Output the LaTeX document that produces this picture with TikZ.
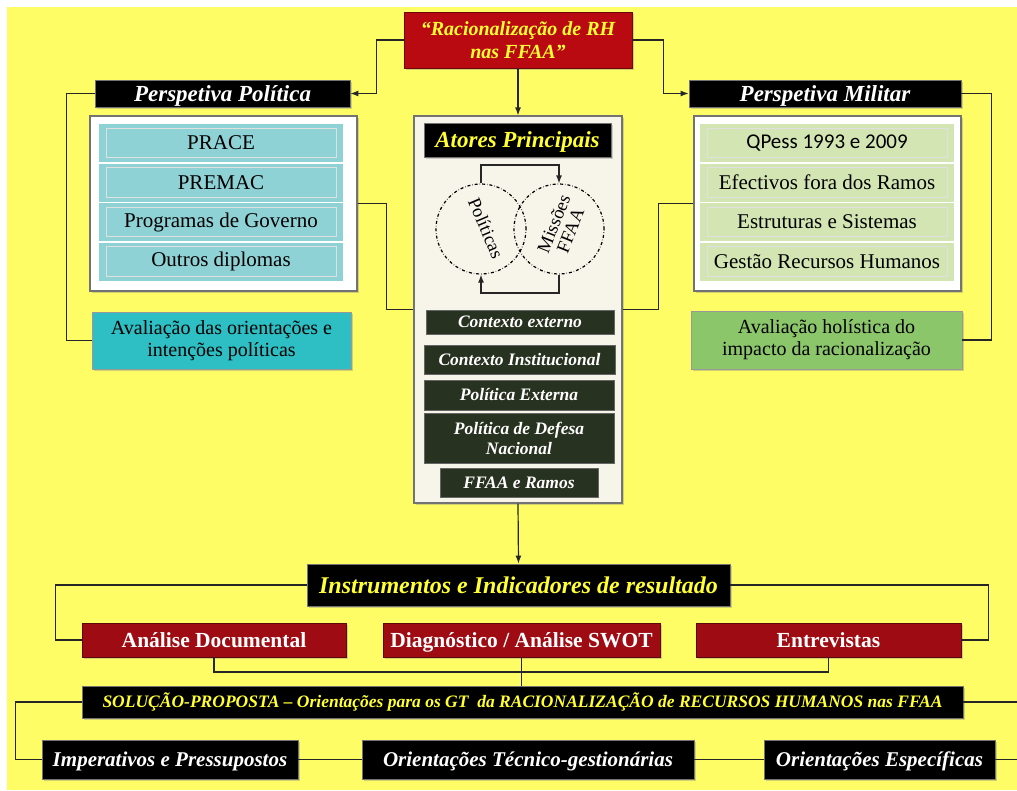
\documentclass[tikz,border=0pt]{standalone}
\usepackage{fontspec}
\setmainfont{Liberation Serif}
\newfontfamily\calibrifont{Carlito}
\usetikzlibrary{shadows,arrows.meta}
\definecolor{bgyellow}{HTML}{FFFD66}
\definecolor{titlered}{HTML}{B80A10}
\definecolor{boxred}{HTML}{9E0B12}
\definecolor{titleyellow}{HTML}{FFFF33}
\definecolor{rowcyan}{HTML}{8FD2D6}
\definecolor{rowgreen}{HTML}{D3E5B3}
\definecolor{avcyan}{HTML}{2DBFC3}
\definecolor{avgreen}{HTML}{8CC66B}
\definecolor{darkgreen}{HTML}{283220}
\definecolor{cream}{HTML}{F7F5EA}
\tikzstyle{blackbar}=[draw=black!55, line width=0.8pt, fill=black, text=white, font=\bfseries\itshape\fontsize{23}{25}\selectfont, text height=15pt, text depth=0pt, inner sep=0pt, drop shadow={opacity=0.35}]
\tikzstyle{goldbar}=[blackbar, text=titleyellow]
\tikzstyle{footbar}=[blackbar, font=\bfseries\itshape\fontsize{21}{23}\selectfont, text height=14pt]
\tikzstyle{redbox}=[draw=boxred!60!black, line width=0.8pt, fill=boxred, text=white, font=\bfseries\fontsize{21.5}{23}\selectfont, text height=14pt, text depth=0pt, inner sep=0pt, drop shadow={opacity=0.35}]
\tikzstyle{titlebox}=[draw=titlered!60!black, line width=0.8pt, fill=titlered, text=titleyellow, font=\bfseries\itshape\fontsize{20}{23}\selectfont, align=center, inner sep=0pt, drop shadow={opacity=0.35}]
\tikzstyle{frame}=[draw=black!55, line width=1.2pt, fill=white, drop shadow={opacity=0.35}]
\tikzstyle{cyanrow}=[fill=rowcyan, draw=white, line width=1.5pt, font=\fontsize{21}{23}\selectfont, inner sep=0pt, minimum height=39.5, minimum width=246,
  path picture={\draw[black!12, line width=0.6pt] ([xshift=8pt,yshift=-5pt]path picture bounding box.north west) rectangle ([xshift=-8pt,yshift=5pt]path picture bounding box.south east);}]
\tikzstyle{greenrow}=[cyanrow, fill=rowgreen, minimum width=256]
\tikzstyle{avalbox}=[draw=black!40, line width=0.8pt, font=\fontsize{20}{22}\selectfont, align=center, inner sep=0pt, drop shadow={opacity=0.35}]
\tikzstyle{darkbox}=[fill=darkgreen, draw=black!60, line width=0.8pt, text=white, font=\bfseries\itshape\fontsize{17.5}{20}\selectfont, inner sep=0pt, align=center]
\tikzstyle{actor}=[circle, draw, dash dot, line width=1.2pt, minimum size=90, inner sep=0pt]
\tikzstyle{link}=[line width=1.2pt, draw=black!85]

\begin{document}
\begin{tikzpicture}[x=1pt, y=-1pt, >={Latex[length=8pt,width=6pt]}]
\useasboundingbox (0,0) rectangle (1017,790);
\fill[bgyellow] (7,7) rectangle (1017,790);

\node[titlebox, minimum width=228, minimum height=56] (racio) at (518,40) {“Racionalização de RH\\nas FFAA”};
\node[blackbar, minimum width=255, minimum height=27] (ppol) at (222.5,93.5) {Perspetiva Política};
\node[blackbar, minimum width=272, minimum height=27] (pmil) at (825,93.5) {Perspetiva Militar};

\node[frame, minimum width=267, minimum height=175] (polbox) at (223.5,203.5) {};
\node[cyanrow] (prace) at (221,143) {PRACE};
\node[cyanrow] (premac) at (221,182.5) {PREMAC};
\node[cyanrow] (progov) at (221,222) {Programas de Governo};
\node[cyanrow] (outros) at (221,261.5) {Outros diplomas};

\node[frame, minimum width=267, minimum height=175] (milbox) at (827.5,203.5) {};
\node[greenrow] (qpess) at (827,143) {\calibrifont QPess 1993 e 2009};
\node[greenrow] (efect) at (827,182.5) {Efectivos fora dos Ramos};
\node[greenrow] (estrut) at (827,222) {Estruturas e Sistemas};
\node[greenrow] (gestao) at (827,261.5) {Gestão Recursos Humanos};

\node[avalbox, fill=avcyan, minimum width=259, minimum height=57] (avpol) at (221.5,340.5) {Avaliação das orientações e\\intenções políticas};
\node[avalbox, fill=avgreen, minimum width=271, minimum height=58] (avmil) at (826.5,340) {Avaliação holística do\\impacto da racionalização};

\node[frame, fill=cream, minimum width=208, minimum height=387] (central) at (518,309.5) {};
\node[goldbar, minimum width=187, minimum height=34] (atores) at (517.5,140) {Atores Principais};
\node[actor] (cpol) at (481,229) {};
\node[actor] (cmis) at (559,229) {};
\node[rotate=-67, font=\fontsize{18.5}{19}\selectfont] (lpol) at (486,228) {Políticas};
\node[rotate=68, align=center, font=\fontsize{18.5}{18}\selectfont] (lmis) at (562,227) {Missões\\FFAA};
\coordinate (ctop) at (520,165);
\coordinate (cbot) at (520,293);
\draw[link,->] (cpol.north) |- (ctop) -| (cmis.north);
\draw[link,->] (cmis.south) |- (cbot) -| (cpol.south);

\node[darkbox, minimum width=188, minimum height=24] (ctxext) at (520,322) {Contexto externo};
\node[darkbox, minimum width=191, minimum height=29] (ctxinst) at (519.5,359.5) {Contexto Institucional};
\node[darkbox, minimum width=190, minimum height=30] (polext) at (519,395) {Política Externa};
\node[darkbox, minimum width=190, minimum height=50] (poldef) at (519,438) {Política de Defesa\\Nacional};
\node[darkbox, minimum width=158, minimum height=29] (ffaa) at (519,482.5) {FFAA e Ramos};

\node[goldbar, font=\bfseries\itshape\fontsize{24}{26}\selectfont, text height=16pt, minimum width=423, minimum height=42] (instr) at (518.5,585) {Instrumentos e Indicadores de resultado};
\node[redbox, minimum width=264, minimum height=34] (anadoc) at (214,640) {Análise Documental};
\node[redbox, minimum width=277, minimum height=34] (diag) at (521.5,640) {Diagnóstico / Análise SWOT};
\node[redbox, minimum width=265, minimum height=34] (entrev) at (828.5,640) {Entrevistas};
\node[goldbar, font=\bfseries\itshape\fontsize{17.5}{19}\selectfont, text height=11.5pt, minimum width=881, minimum height=32] (solucao) at (522.5,702) {SOLUÇÃO-PROPOSTA – Orientações para os GT\ \ da RACIONALIZAÇÃO de RECURSOS HUMANOS nas FFAA};
\node[footbar, minimum width=256, minimum height=39] (imper) at (170,759.5) {Imperativos e Pressupostos};
\node[footbar, minimum width=332, minimum height=39] (tecnico) at (528,759.5) {Orientações Técnico-gestionárias};
\node[footbar, minimum width=231, minimum height=39] (especif) at (879.5,759.5) {Orientações Específicas};

\draw[link,->] (racio.west) -- ++(-27,0) |- (ppol.east);
\draw[link,->] (racio.east) -- ++(31,0) |- (pmil.west);
\draw[link,->] (racio.south) -- (central.north);
\draw[link] (ppol.west) -- ++(-28,0) |- (avpol.west);
\draw[link] (pmil.east) -- ++(30,0) |- (avmil.east);
\draw[link] (polbox.east) -- ++(29,0) |- (central.west);
\draw[link] (milbox.west) -- ++(-35,0) |- (central.east);
\draw[link,->] (central.south) -- (instr.north);
\draw[link] (instr.west) -- ++(-251,0) |- (anadoc.west);
\draw[link] (instr.east) -- ++(258,0) |- (entrev.east);
\coordinate (merge) at (520,672);
\draw[link] (anadoc.south) |- (merge) -| (entrev.south);
\draw[link] (diag.south) -- (diag.south |- solucao.north);
\draw[link] (solucao.west) -- ++(-66,0) |- (imper.west);
\draw[link] (solucao.east) -- ++(70,0) |- (especif.east);
\draw[link] (imper) -- (tecnico);
\draw[link] (tecnico) -- (especif);
\end{tikzpicture}
\end{document}
